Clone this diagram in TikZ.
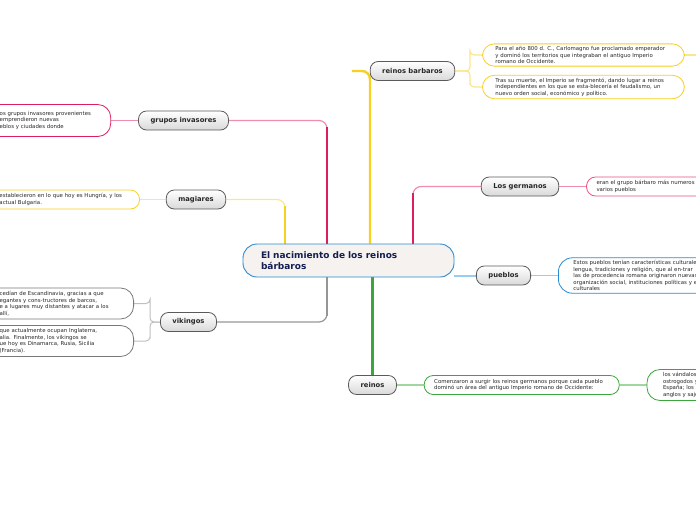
\documentclass[tikz,border=0pt]{standalone}
\usepackage{fontspec}
\setmainfont{DejaVu Sans}
\usetikzlibrary{positioning, backgrounds}

\definecolor{yel}{RGB}{248,208,30}
\definecolor{yellight}{RGB}{252,230,140}
\definecolor{mag}{RGB}{220,30,95}
\definecolor{maglight}{RGB}{240,140,175}
\definecolor{pinkbox}{RGB}{230,80,130}
\definecolor{gry}{RGB}{150,150,150}
\definecolor{grybox}{RGB}{120,120,120}
\definecolor{grn}{RGB}{60,165,60}
\definecolor{grnlight}{RGB}{160,215,160}
\definecolor{blu}{RGB}{40,140,210}
\definecolor{blulight}{RGB}{150,205,240}
\definecolor{navy}{RGB}{20,30,80}
\definecolor{txt}{RGB}{40,40,40}

\tikzset{
x=1pt, y=-1pt, % one unit per pixel, y runs downwards
title/.style={draw=blu, fill={rgb,255:red,245;green,242;blue,240}, line width=0.9pt,
  rounded corners=14pt, text width=175pt, inner xsep=18pt, minimum height=33pt,
  align=left, text=navy, font=\bfseries\fontsize{9}{11}\selectfont}, % the central topic
branch/.style={draw={rgb,255:red,90;green,90;blue,90}, top color=white, bottom color=gray!30,
  line width=0.8pt, rounded corners=8pt, inner xsep=12pt, minimum height=19pt,
  text=txt, font=\bfseries\fontsize{6.8}{8}\selectfont}, % grey topic boxes
leaf/.style={fill=white, line width=0.8pt, rounded corners=9pt, minimum height=19pt,
  inner ysep=2.5pt, align=left, text=txt, font=\fontsize{5.4}{6.5}\selectfont}, % text boxes
thick line/.style={line width=2.4pt, rounded corners=8pt}, % stems out of the title
thin line/.style={line width=1.2pt, rounded corners=8pt}, % lines to the text boxes
}

\begin{document}
\begin{tikzpicture}
  \useasboundingbox (0,0) rectangle (696,520);
  \clip (0,0) rectangle (696,520);

  % central topic
  \node[title] (title) at (348.5,260.5) {El nacimiento de los reinos\\bárbaros};

  % main branches
  \node[branch] (barbaros) at (412.5,71) {reinos barbaros};
  \node[branch] (invasores) at (183.5,120.5) {grupos invasores};
  \node[branch] (magiares) at (196,199.5) {magiares};
  \node[branch] (germanos) at (520,186.5) {Los germanos};
  \node[branch] (pueblos) at (503.5,275.5) {pueblos};
  \node[branch] (vikingos) at (188.5,322) {vikingos};
  \node[branch] (reinos) at (372.5,385) {reinos};

  % text boxes
  \node[leaf, draw=yel, rounded corners=12pt, text width=176pt, inner xsep=13pt, anchor=west] (carlo) at (482,55)
    {Para el año 800 d. C., Carlomagno fue proclamado emperador\\y dominó los territorios que integraban el antiguo Imperio\\romano de Occidente.};
  \node[leaf, draw=yel, rounded corners=12pt, text width=176pt, inner xsep=13pt, anchor=west] (feudo) at (482,87)
    {Tras su muerte, el Imperio se fragmentó, dando lugar a reinos\\independientes en los que se esta-blecería el feudalismo, un\\nuevo orden social, económico y político.};
  \node[leaf, draw=mag, rounded corners=13pt, minimum height=32pt, text width=97pt, inner xsep=14pt, left=27pt of invasores] (invtxt)
    {os grupos invasores provenientes\\emprendieron nuevas\\eblos y ciudades donde};
  \node[leaf, draw=yel, text width=128pt, inner xsep=12pt, left=26pt of magiares] (magtxt)
    {establecieron en lo que hoy es Hungría, y los\\actual Bulgaria.};
  \node[leaf, draw=grybox, rounded corners=13pt, minimum height=31pt, text width=120pt, inner xsep=14pt, anchor=east] (vik1) at (134,303.5)
    {cedían de Escandinavia, gracias a que\\egantes y cons-tructores de barcos,\\e a lugares muy distantes y atacar a los\\allí,};
  \node[leaf, draw=grybox, rounded corners=13pt, minimum height=31pt, text width=120pt, inner xsep=14pt, anchor=east] (vik2) at (134,341)
    {que actualmente ocupan Inglaterra,\\alia. Finalmente, los vikingos se\\ue hoy es Dinamarca, Rusia, Sicilia\\(Francia).};
  \node[leaf, draw=pinkbox, text width=150pt, inner xsep=10pt, right=27pt of germanos] (germtxt)
    {eran el grupo bárbaro más numeros\\varios pueblos};
  \node[leaf, draw=blu, rounded corners=14pt, text width=150pt, inner xsep=15pt, right=27pt of pueblos] (puebtxt)
    {Estos pueblos tenían características culturale\\lengua, tradiciones y religión, que al en-trar\\las de procedencia romana originaron nuevas\\organización social, instituciones políticas y e\\culturales};
  \node[leaf, draw=grn, text width=175pt, inner xsep=10pt, right=27pt of reinos] (surgen)
    {Comenzaron a surgir los reinos germanos porque cada pueblo\\dominó un área del antiguo Imperio romano de Occidente:};
  \node[leaf, draw=grn, rounded corners=13pt, minimum height=31pt, text width=100pt, inner xsep=16pt, right=27pt of surgen] (vandalos)
    {los vándalos\\ostrogodos y\\España; los\\anglos y sajo};

  % stem roots on the title and free ends
  \coordinate (rootbar) at ([xshift=21.5pt]title.north);
  \coordinate (rootinv) at ([xshift=-21.5pt]title.north);
  \coordinate (rootmag) at ([xshift=-63.5pt]title.north);
  \coordinate (rootger) at ([xshift=64.5pt]title.north);
  \coordinate (rootvik) at ([xshift=-21.5pt]title.south);
  \coordinate (hook) at ([xshift=-18pt]barbaros.west);
  \coordinate (carloout) at ([xshift=30pt]carlo.east);

  \begin{scope}[on background layer]
    % stems out of the title
    \draw[yel, thick line] (hook) -| (rootbar);
    \draw[maglight, thin line] (rootinv) |- (invasores.east);
    \draw[mag, line width=2.4pt] (rootinv) -- ([yshift=-6pt]invasores.east -| rootinv);
    \draw[yellight, thin line] (rootmag) |- (magiares.east);
    \draw[yel, line width=2.4pt] (rootmag) -- ([yshift=-6pt]magiares.east -| rootmag);
    \draw[maglight, thin line] (rootger) |- (germanos.west);
    \draw[mag, line width=2.4pt] (rootger) -- ([yshift=-6pt]germanos.west -| rootger);
    \draw[blulight, line width=2pt] (title.east |- pueblos.west) -- (pueblos.west);
    \draw[gry, thin line] (rootvik) |- (vikingos.east);
    \draw[gry, line width=2.4pt] (rootvik) -- ([yshift=6pt]vikingos.east -| rootvik);
    \draw[grn, line width=2.4pt] (title.south -| reinos.north) -- (reinos.north);

    % lines to the text boxes
    \draw[yellight, line width=1.2pt, rounded corners=4pt] (barbaros.east) -| ([xshift=-12pt]carlo.west) |- (carlo.west);
    \draw[yellight, line width=1.2pt, rounded corners=4pt] (barbaros.east) -| ([xshift=-12pt]feudo.west) |- (feudo.west);
    \draw[yellight, line width=1.2pt] (carlo.east) -- (carloout);
    \draw[maglight, line width=1.2pt] (invasores.west) -- (invtxt.east);
    \draw[yellight, line width=1.2pt] (magiares.west) -- (magtxt.east);
    \draw[gray!50, line width=1pt, rounded corners=4pt] (vikingos.west) -| ([xshift=16pt]vik1.east) |- (vik1.east);
    \draw[gray!50, line width=1pt, rounded corners=4pt] (vikingos.west) -| ([xshift=16pt]vik2.east) |- (vik2.east);
    \draw[maglight, line width=1.2pt] (germanos.east) -- (germtxt.west);
    \draw[blulight, line width=1.2pt] (pueblos.east) -- (puebtxt.west);
    \draw[grnlight, line width=1.2pt] (reinos.east) -- (surgen.west);
    \draw[grnlight, line width=1.2pt] (surgen.east) -- (vandalos.west);
  \end{scope}
\end{tikzpicture}
\end{document}
